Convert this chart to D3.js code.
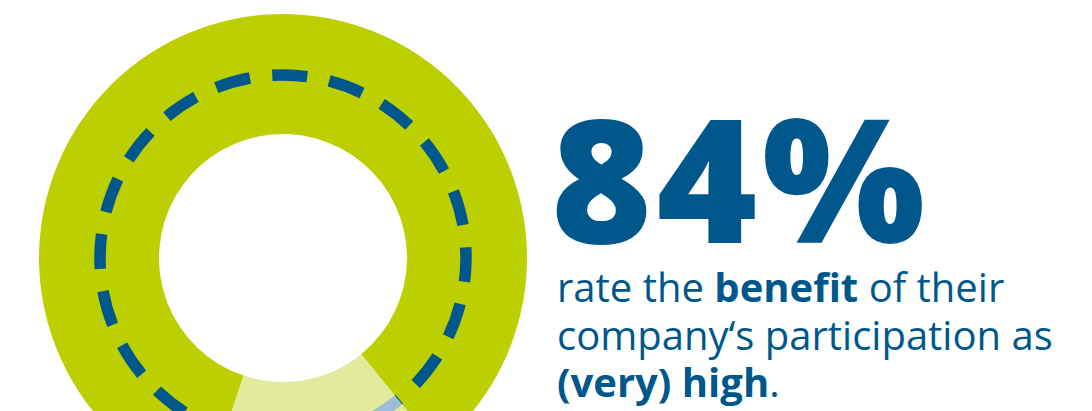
<!DOCTYPE html>
<html>
<head>
<meta charset="utf-8">
<script src="https://cdn.jsdelivr.net/npm/d3@7"></script>
<style>
  html, body { margin: 0; padding: 0; background: #ffffff; }
  svg { display: block; }
</style>
</head>
<body>
<svg id="chart" width="1092" height="411"></svg>
<script>
// ---- data ----
const categories = ["(very) high", "other"];
const values = [84, 16];
const headline = "84%";
const captionLines = [
  [{t: "rate the ", b: false}, {t: "benefit", b: true}, {t: " of their", b: false}],
  [{t: "company\u2018s participation as", b: false}],
  [{t: "(very) high", b: true}, {t: ".", b: false}]
];

// ---- styles / layout ----
const W = 1092, H = 411;
const cx = 283, cy = 258;
const rOuter = 244, rInner = 124, rDash = 183;
const colors = ["#bccf00", "#e2ea9c"];
const dashColors = ["#00578c", "#9bbdd7"];
const textColor = "#00578c";
const rot = -161.5 * Math.PI / 180;

const svg = d3.select("#chart");
const g = svg.append("g").attr("transform", `translate(${cx},${cy})`);

const pie = d3.pie().sort(null).startAngle(rot).endAngle(rot + 2 * Math.PI);
const arcs = pie(values);
const arc = d3.arc().innerRadius(rInner).outerRadius(rOuter);

g.selectAll("path.slice")
  .data(arcs)
  .join("path")
  .attr("class", "slice")
  .attr("d", arc)
  .attr("fill", (d, i) => colors[i]);

// clip paths for dashed ring per slice
const wedge = d3.arc().innerRadius(0).outerRadius(rOuter + 10);
const defs = svg.append("defs");
arcs.forEach((d, i) => {
  defs.append("clipPath").attr("id", "clip" + i)
    .append("path").attr("d", wedge(d));
});

// dashed ring: 20 dashes, centred at 2deg + k*18deg clockwise from top
const C = 2 * Math.PI * rDash;
const period = C / 20;
const dashLen = period * 0.61;
const gapLen = period - dashLen;
const firstCentreFromStart = ((2 - 90) % 18 + 18) % 18;
const dashStart = firstCentreFromStart * Math.PI / 180 * rDash - dashLen / 2;
const offset = -dashStart;

arcs.forEach((d, i) => {
  g.append("g").attr("clip-path", `url(#clip${i})`)
    .append("circle")
    .attr("r", rDash)
    .attr("fill", "none")
    .attr("stroke", dashColors[i])
    .attr("stroke-width", 11.5)
    .attr("stroke-dasharray", `${dashLen} ${gapLen}`)
    .attr("stroke-dashoffset", offset);
});

// headline
svg.append("text")
  .attr("x", 551)
  .attr("y", 243)
  .attr("font-family", "'Open Sans', 'Liberation Sans', sans-serif")
  .attr("font-weight", 800)
  .attr("font-size", 172)
  .attr("fill", textColor)
  .attr("textLength", 374)
  .attr("lengthAdjust", "spacing")
  .text(headline);

// caption: each segment its own text element, placed after the previous one
const baselines = [302, 350, 397];
captionLines.forEach((line, i) => {
  let x = 557;
  line.forEach(seg => {
    const t = svg.append("text")
      .attr("x", x)
      .attr("y", baselines[i])
      .attr("font-family", "'Open Sans', 'Noto Sans', sans-serif")
      .attr("font-size", 40)
      .attr("font-weight", seg.b ? 700 : 400)
      .attr("fill", textColor)
      .style("white-space", "pre")
      .attr("xml:space", "preserve")
      .text(seg.t);
    x += t.node().getComputedTextLength();
  });
});
</script>
</body>
</html>
